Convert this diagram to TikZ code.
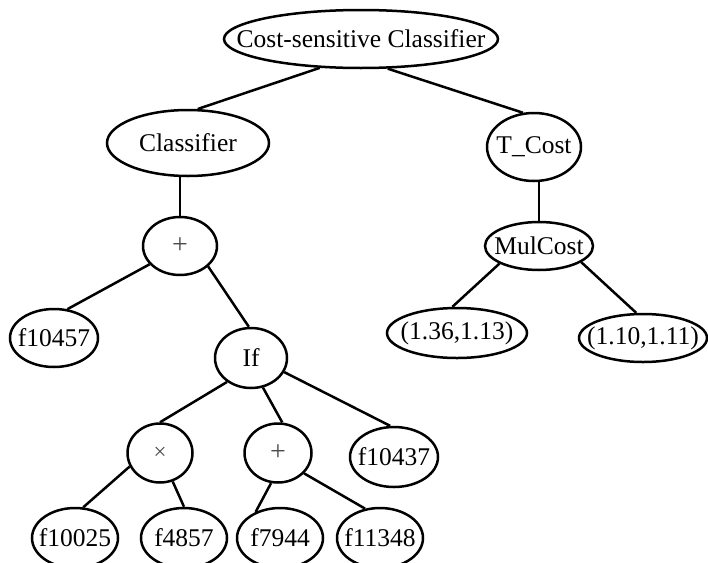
\documentclass[tikz,border=0pt]{standalone}
\usepackage{fontspec}
\setmainfont{Liberation Serif}
\usetikzlibrary{shapes.geometric}
% label set in a zero-width box, so the ellipse keeps its given size
\newcommand{\lbl}[1]{\makebox[0pt]{#1}}
\begin{document}
\begin{tikzpicture}[x=1pt,y=-1pt,
  tn/.style={draw, ellipse, line width=2.5pt, inner sep=0pt, font=\fontsize{25.5}{29}\selectfont},
  op/.style={tn, text=black!70},
  edge/.style={line width=2.5pt}]
\useasboundingbox (0,0) rectangle (708,562);
% upper levels
\node[tn, minimum width=274, minimum height=58] (root) at (361,39) {\lbl{Cost-sensitive Classifier}};
\node[tn, minimum width=162, minimum height=66] (cls) at (188,143) {\lbl{Classifier}};
\node[tn, minimum width=94, minimum height=68] (tcost) at (534,147) {\lbl{T\_Cost}};
\node[op, minimum width=74, minimum height=58, font=\fontsize{28}{30}\selectfont] (plus1) at (180,246) {\lbl{+}};
\node[tn, minimum width=108, minimum height=48] (mul) at (539,246) {\lbl{MulCost}};
% middle level
\node[tn, minimum width=88, minimum height=58] (f10457) at (54,338) {\lbl{f10457}};
\node[tn, minimum width=72, minimum height=60] (if) at (251,358) {\lbl{If}};
\node[tn, minimum width=140, minimum height=50] (c1) at (457,333) {\lbl{(1.36,1.13)}};
\node[tn, minimum width=128, minimum height=48] (c2) at (643,338) {\lbl{(1.10,1.11)}};
% lower levels
\node[op, minimum width=65, minimum height=59, font=\fontsize{23}{26}\selectfont] (times) at (160,453) {\lbl{×}};
\node[op, minimum width=67, minimum height=59, font=\fontsize{28}{30}\selectfont] (plus2) at (278,453) {\lbl{+}};
\node[tn, minimum width=88, minimum height=60] (f10437) at (394,457) {\lbl{f10437}};
\node[tn, minimum width=86, minimum height=60] (f10025) at (75,538) {\lbl{f10025}};
\node[tn, minimum width=86, minimum height=60] (f4857) at (184,538) {\lbl{f4857}};
\node[tn, minimum width=86, minimum height=60] (f7944) at (280,538) {\lbl{f7944}};
\node[tn, minimum width=86, minimum height=60] (f11348) at (380,538) {\lbl{f11348}};
% connectors
\draw[edge] (root.215) -- (cls.74);
\draw[edge] (root.312) -- (tcost.108);
\draw[edge] (cls.south -| plus1.north) -- (plus1.north);
\draw[edge] (tcost.south -| mul.north) -- (mul.north);
\draw[edge] (plus1.211) -- (f10457.65);
\draw[edge] (plus1.324) -- (if.94);
\draw[edge] (if.225) -- (times.90);
\draw[edge] (if.292) -- (plus2.82);
\draw[edge] (if.337) -- (f10437.97);
\draw[edge] (times.204) -- (f10025.75);
\draw[edge] (times.294) -- (f4857.90);
\draw[edge] (plus2.257) -- (f7944.133);
\draw[edge] (plus2.322) -- (f11348.117);
\draw[edge] (mul.204) -- (c1.100);
\draw[edge] (mul.339) -- (c2.105);
\end{tikzpicture}
\end{document}
